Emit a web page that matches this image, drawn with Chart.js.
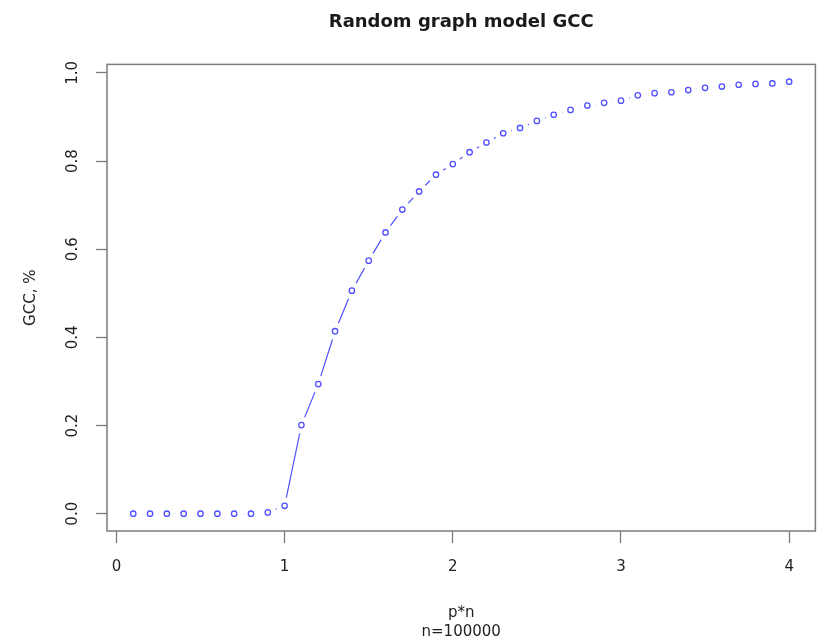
<!DOCTYPE html>
<html>
<head>
<meta charset="utf-8">
<script src="https://cdn.jsdelivr.net/npm/chart.js@4.4.0/dist/chart.umd.min.js"></script>
<style>
html, body { margin: 0; padding: 0; background: #ffffff; }
#wrap { width: 824px; height: 644px; }
</style>
</head>
<body>
<div id="wrap"><canvas id="c" width="824" height="644"></canvas></div>
<script>
// ---- data ----
const pn = [0.1, 0.2, 0.3, 0.4, 0.5, 0.6, 0.7, 0.8, 0.9, 1.0,
            1.1, 1.2, 1.3, 1.4, 1.5, 1.6, 1.7, 1.8, 1.9, 2.0,
            2.1, 2.2, 2.3, 2.4, 2.5, 2.6, 2.7, 2.8, 2.9, 3.0,
            3.1, 3.2, 3.3, 3.4, 3.5, 3.6, 3.7, 3.8, 3.9, 4.0];
const gcc = [0, 0, 0, 0, 0, 0, 0, 0, 0.003, 0.018,
             0.201, 0.294, 0.414, 0.506, 0.574, 0.638, 0.690, 0.731, 0.769, 0.793,
             0.820, 0.842, 0.863, 0.875, 0.891, 0.905, 0.916, 0.926, 0.932, 0.937,
             0.949, 0.954, 0.956, 0.961, 0.966, 0.969, 0.973, 0.975, 0.976, 0.980];
const xTickValues = [0, 1, 2, 3, 4];
const xTickLabels = ['0', '1', '2', '3', '4'];
const yTickValues = [0, 0.2, 0.4, 0.6, 0.8, 1.0];
const yTickLabels = ['0.0', '0.2', '0.4', '0.6', '0.8', '1.0'];
const chartTitle = 'Random graph model GCC';
const xAxisTitle = ['p*n', 'n=100000'];
const yAxisTitle = 'GCC, %';

// R-style axis range: data range extended by 4% on each side
function rRange(arr) {
  const lo = Math.min(...arr), hi = Math.max(...arr);
  const d = (hi - lo) * 0.04;
  return [lo - d, hi + d];
}
const [xMin, xMax] = rRange(pn);
const [yMin, yMax] = rRange(gcc);

const points = pn.map((x, i) => ({ x: x, y: gcc[i] }));

const FONT = "'DejaVu Sans', 'Liberation Sans', Arial, sans-serif";
const FRAME = '#7c7c7c';

const boxPlugin = {
  id: 'rbox',
  beforeDatasetsDraw(chart) {
    const a = chart.chartArea, ctx = chart.ctx;
    ctx.save();
    ctx.strokeStyle = FRAME;
    ctx.lineWidth = 1.5;
    ctx.strokeRect(a.left, a.top, a.right - a.left, a.bottom - a.top);
    ctx.restore();
  }
};

new Chart(document.getElementById('c'), {
  type: 'scatter',
  data: {
    datasets: [
      {
        // open circle markers
        data: points,
        showLine: false,
        order: 1,
        pointStyle: 'circle',
        pointRadius: 2.7,
        pointBorderWidth: 1.3,
        pointBorderColor: 'rgba(35,35,255,0.8)',
        pointBackgroundColor: 'rgba(255,255,255,0)',
        pointHoverRadius: 2.7
      },
      {
        // connecting line with gaps around each point (R type = "b")
        data: points,
        showLine: true,
        order: 2,
        borderColor: 'rgba(35,35,255,0.8)',
        borderWidth: 1.2,
        tension: 0,
        pointRadius: 8.6,
        pointBorderWidth: 0,
        pointBorderColor: '#ffffff',
        pointBackgroundColor: '#ffffff',
        pointHoverRadius: 8.6
      }
    ]
  },
  plugins: [boxPlugin],
  options: {
    responsive: false,
    animation: false,
    events: [],
    layout: { padding: { left: 0, right: 7, top: 0, bottom: 0 } },
    plugins: {
      legend: { display: false },
      tooltip: { enabled: false },
      title: {
        display: true,
        text: chartTitle,
        fullSize: false,
        color: '#1a1a1a',
        font: { family: FONT, size: 18, weight: 'bold', lineHeight: 1.2 },
        padding: { top: 12, bottom: 30.8 }
      }
    },
    scales: {
      x: {
        type: 'linear',
        position: 'bottom',
        min: xMin,
        max: xMax,
        afterBuildTicks: (s) => { s.ticks = xTickValues.map(v => ({ value: v })); },
        afterFit: (s) => { s.height = 113; },
        grid: { display: true, drawOnChartArea: false, drawTicks: true, tickLength: 12, tickColor: FRAME, tickWidth: 1.3 },
        border: { display: false },
        ticks: {
          autoSkip: false,
          maxRotation: 0,
          minRotation: 0,
          padding: 15,
          color: '#1f1f1f',
          font: { family: FONT, size: 15 },
          callback: (v, i) => xTickLabels[i]
        },
        title: {
          display: true,
          text: xAxisTitle,
          color: '#1f1f1f',
          font: { family: FONT, size: 15, lineHeight: 1.22 },
          padding: { top: 0, bottom: 3 }
        }
      },
      y: {
        type: 'linear',
        position: 'left',
        min: yMin,
        max: yMax,
        afterBuildTicks: (s) => { s.ticks = yTickValues.map(v => ({ value: v })); },
        afterFit: (s) => { s.width = 107; },
        grid: { display: true, drawOnChartArea: false, drawTicks: true, tickLength: 11, tickColor: FRAME, tickWidth: 1.3 },
        border: { display: false },
        ticks: {
          autoSkip: false,
          minRotation: 90,
          maxRotation: 90,
          crossAlign: 'center',
          padding: 11,
          color: '#1f1f1f',
          font: { family: FONT, size: 15 },
          callback: (v, i) => yTickLabels[i]
        },
        title: {
          display: true,
          text: yAxisTitle,
          color: '#1f1f1f',
          font: { family: FONT, size: 15, lineHeight: 1.2 },
          padding: { top: 22, bottom: 0 }
        }
      }
    }
  }
});
</script>
</body>
</html>
